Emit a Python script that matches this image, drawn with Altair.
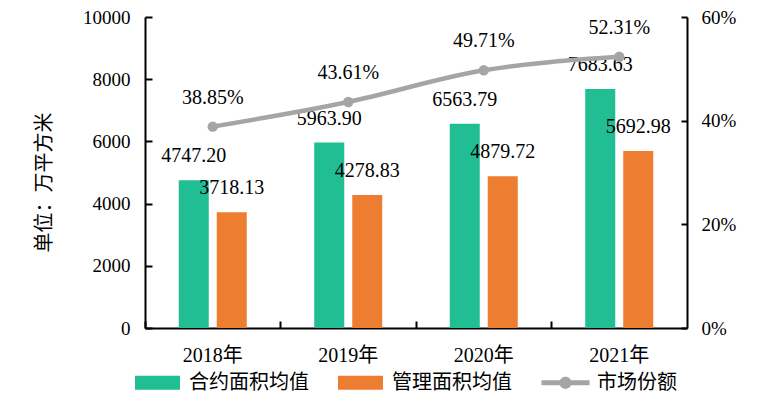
import altair as alt
import pandas as pd

years = ["2018年", "2019年", "2020年", "2021年"]
contract_avg = [4747.20, 5963.90, 6563.79, 7683.63]
managed_avg = [3718.13, 4278.83, 4879.72, 5692.98]
market_share = [0.3885, 0.4361, 0.4971, 0.5231]

series_names = ["合约面积均值", "管理面积均值", "市场份额"]
colors = ["#21BD93", "#ED7D31", "#A5A5A5"]

bars_df = pd.DataFrame({
    "year": years * 2,
    "series": [series_names[0]] * len(years) + [series_names[1]] * len(years),
    "value": contract_avg + managed_avg,
})
share_df = pd.DataFrame({"year": years, "series": series_names[2], "pct": market_share})

FONT = "'Liberation Serif', 'Noto Sans CJK SC'"
W, H = 542, 311

rect_path = "M-1,-0.31H1V0.31H-1Z"
line_path = ("M-1.07,-0.11H1.07V0.11H-1.07Z "
             "M0.27,0A0.27,0.27 0 1,1 -0.27,0A0.27,0.27 0 1,1 0.27,0Z")

color_scale = alt.Scale(domain=series_names, range=colors)
shape_scale = alt.Scale(domain=series_names, range=[rect_path, rect_path, line_path])

x_enc = alt.X(
    "year:N", sort=years,
    scale=alt.Scale(paddingInner=0, paddingOuter=0),
    axis=alt.Axis(title=None, labelAngle=0, bandPosition=0,
                  tickSize=alt.ExprRef(expr="-7"), tickWidth=2, tickColor="black",
                  domainColor="black", domainWidth=2, labelPadding=24,
                  labelFont=FONT, labelFontSize=20, labelColor="black"),
)
xoff = alt.XOffset("series:N", sort=series_names[:2],
                   scale=alt.Scale(domain=series_names[:2], paddingInner=0.2105, paddingOuter=0.888))

y_left = alt.Y(
    "value:Q",
    scale=alt.Scale(domain=[0, 10000], nice=False),
    axis=alt.Axis(values=[0, 2000, 4000, 6000, 8000, 10000], format="d", grid=False,
                  tickSize=alt.ExprRef(expr="-7"), tickWidth=2, tickColor="black",
                  domainColor="black", domainWidth=2, labelPadding=22,
                  labelFont=FONT, labelFontSize=19, labelColor="black",
                  title="单位：万平方米", titleFont=FONT, titleFontSize=20,
                  titleFontWeight="normal", titleColor="black", titlePadding=28,
                  titleY=165),
)

legend_spec = alt.Legend(
    title=None, orient="none", direction="horizontal", legendX=-10, legendY=343,
    symbolSize=2025, symbolStrokeWidth=0, symbolOpacity=1, labelOffset=9,
    columnPadding=29, labelFont=FONT, labelFontSize=20, labelColor="black",
)
legend_layer = alt.Chart(bars_df).transform_filter("false").mark_point(filled=True, opacity=1).encode(
    color=alt.Color("series:N", scale=color_scale, legend=legend_spec),
    shape=alt.Shape("series:N", scale=shape_scale, legend=legend_spec),
)

bars = alt.Chart(bars_df).mark_bar().encode(
    x=x_enc, xOffset=xoff, y=y_left,
    color=alt.Color("series:N", scale=color_scale),
)
bar_labels = alt.Chart(bars_df).mark_text(
    font=FONT, fontSize=20, color="black", dy=-24, baseline="middle", align="center"
).encode(
    x=x_enc, xOffset=xoff, y=alt.Y("value:Q"),
    text=alt.Text("value:Q", format=".2f"),
)

left = alt.layer(legend_layer, bars, bar_labels)

y_right = alt.Y(
    "pct:Q",
    scale=alt.Scale(domain=[0, 0.6], nice=False),
    axis=alt.Axis(orient="right", values=[0, 0.2, 0.4, 0.6], format=".0%", grid=False,
                  tickSize=alt.ExprRef(expr="-6"), tickWidth=2, tickColor="black",
                  domainColor="black", domainWidth=2, labelPadding=20,
                  labelFont=FONT, labelFontSize=19, labelColor="black", title=None),
)

line = alt.Chart(share_df).mark_line(
    color=colors[2], strokeWidth=4.5, interpolate="monotone"
).encode(x=x_enc, y=y_right)
pts = alt.Chart(share_df).mark_point(
    filled=True, color=colors[2], size=110, opacity=1
).encode(x=x_enc, y=y_right)
share_labels = alt.Chart(share_df).mark_text(
    font=FONT, fontSize=20, color="black", dy=-29, baseline="middle", align="center"
).encode(x=x_enc, y=y_right, text=alt.Text("pct:Q", format=".2%"))

right = alt.layer(line, pts, share_labels)

chart = alt.layer(left, right).resolve_scale(y="independent").properties(
    width=W, height=H,
    autosize=alt.AutoSizeParams(type="none"),
    padding={"left": 137, "top": 9, "right": 70, "bottom": 64},
).configure_view(stroke=None)

chart.save("out.html", embed_options={"renderer": "svg", "actions": False})
